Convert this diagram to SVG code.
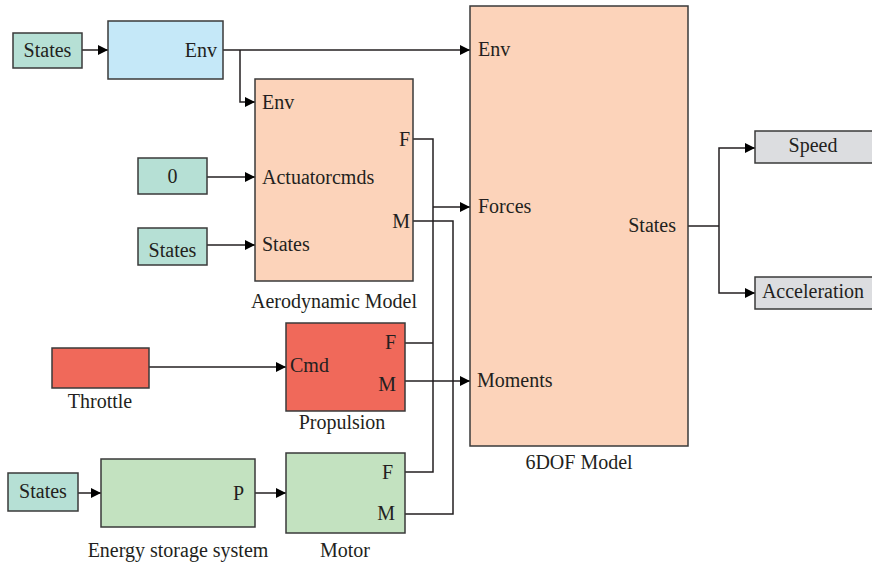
<svg xmlns="http://www.w3.org/2000/svg" width="872" height="567" viewBox="0 0 872 567">
  <style>
    text { font-family: "Liberation Serif", "DejaVu Serif", serif; font-size: 20px; fill: #231f20; }
    .blk { stroke: #3a3a3a; stroke-width: 1.5; }
    .teal { fill: #b6e0d5; }
    .blue { fill: #c5e8f8; }
    .peach { fill: #fcd3ba; }
    .red { fill: #f0695a; }
    .green { fill: #c3e2c0; }
    .grey { fill: #dcdde0; }
    .wire { fill: none; stroke: #231f20; stroke-width: 1.5; }
    .arr { marker-end: url(#ah); }
    .mid { text-anchor: middle; }
    .end { text-anchor: end; }
  </style>
  <defs>
    <marker id="ah" viewBox="0 0 10 10" refX="10" refY="5" markerWidth="10" markerHeight="10" markerUnits="userSpaceOnUse" orient="auto">
      <path d="M0,0 L10,5 L0,10 z" fill="#000"/>
    </marker>
  </defs>

  <g id="connectors">
    <path class="wire arr" d="M82,50 H108"/>
    <path class="wire arr" d="M223,50 H470"/>
    <path class="wire arr" d="M240,50 V102 H255"/>
    <path class="wire arr" d="M207,177 H255"/>
    <path class="wire arr" d="M207,245 H255"/>
    <path class="wire" d="M413,139 H433 V472 H405"/>
    <path class="wire arr" d="M433,207 H470"/>
    <path class="wire" d="M413,221 H453 V514 H405"/>
    <path class="wire" d="M405,343 H433"/>
    <path class="wire arr" d="M405,381 H470"/>
    <path class="wire arr" d="M149,367 H286"/>
    <path class="wire arr" d="M78,493 H101"/>
    <path class="wire arr" d="M255,493 H286"/>
    <path class="wire" d="M688,226 H719"/>
    <path class="wire arr" d="M719,226 V148 H755"/>
    <path class="wire arr" d="M719,226 V293 H755"/>
  </g>

  <g id="states-env">
    <rect class="blk teal" x="13" y="33" width="69" height="35"/>
    <text class="mid" x="47.5" y="57">States</text>
  </g>
  <g id="environment">
    <rect class="blk blue" x="108" y="21" width="115" height="58"/>
    <text class="end" x="217" y="57">Env</text>
  </g>
  <g id="const-zero">
    <rect class="blk teal" x="138" y="158" width="69" height="36"/>
    <text class="mid" x="172.5" y="183">0</text>
  </g>
  <g id="states-aero">
    <rect class="blk teal" x="138" y="228" width="69" height="37"/>
    <text class="mid" x="172.5" y="257">States</text>
  </g>
  <g id="aerodynamic-model">
    <rect class="blk peach" x="255" y="79" width="158" height="202"/>
    <text x="262" y="109">Env</text>
    <text x="262" y="184">Actuatorcmds</text>
    <text x="262" y="251">States</text>
    <text class="end" x="410" y="146">F</text>
    <text class="end" x="410" y="228">M</text>
    <text class="mid" x="334" y="308">Aerodynamic Model</text>
  </g>
  <g id="throttle">
    <rect class="blk red" x="52" y="348" width="97" height="40"/>
    <text class="mid" x="100" y="408">Throttle</text>
  </g>
  <g id="propulsion">
    <rect class="blk red" x="286" y="323" width="119" height="88"/>
    <text x="290" y="372">Cmd</text>
    <text class="end" x="396" y="349">F</text>
    <text class="end" x="396" y="391">M</text>
    <text class="mid" x="342" y="429">Propulsion</text>
  </g>
  <g id="states-energy">
    <rect class="blk teal" x="8" y="473" width="70" height="38"/>
    <text class="mid" x="43" y="498">States</text>
  </g>
  <g id="energy-storage">
    <rect class="blk green" x="101" y="459" width="154" height="68"/>
    <text class="end" x="244" y="500">P</text>
    <text class="mid" x="178" y="557">Energy storage system</text>
  </g>
  <g id="motor">
    <rect class="blk green" x="286" y="453" width="119" height="80"/>
    <text class="end" x="393" y="479">F</text>
    <text class="end" x="395" y="520">M</text>
    <text class="mid" x="345" y="557">Motor</text>
  </g>
  <g id="sixdof-model">
    <rect class="blk peach" x="470" y="6" width="218" height="440"/>
    <text x="478" y="56">Env</text>
    <text x="478" y="213">Forces</text>
    <text x="477" y="387">Moments</text>
    <text class="end" x="676" y="232">States</text>
    <text class="mid" x="579" y="469">6DOF Model</text>
  </g>
  <g id="speed">
    <rect class="blk grey" x="755" y="131" width="118" height="32"/>
    <text class="mid" x="813" y="152">Speed</text>
  </g>
  <g id="acceleration">
    <rect class="blk grey" x="755" y="277" width="118" height="32"/>
    <text class="mid" x="813" y="298">Acceleration</text>
  </g>
</svg>
